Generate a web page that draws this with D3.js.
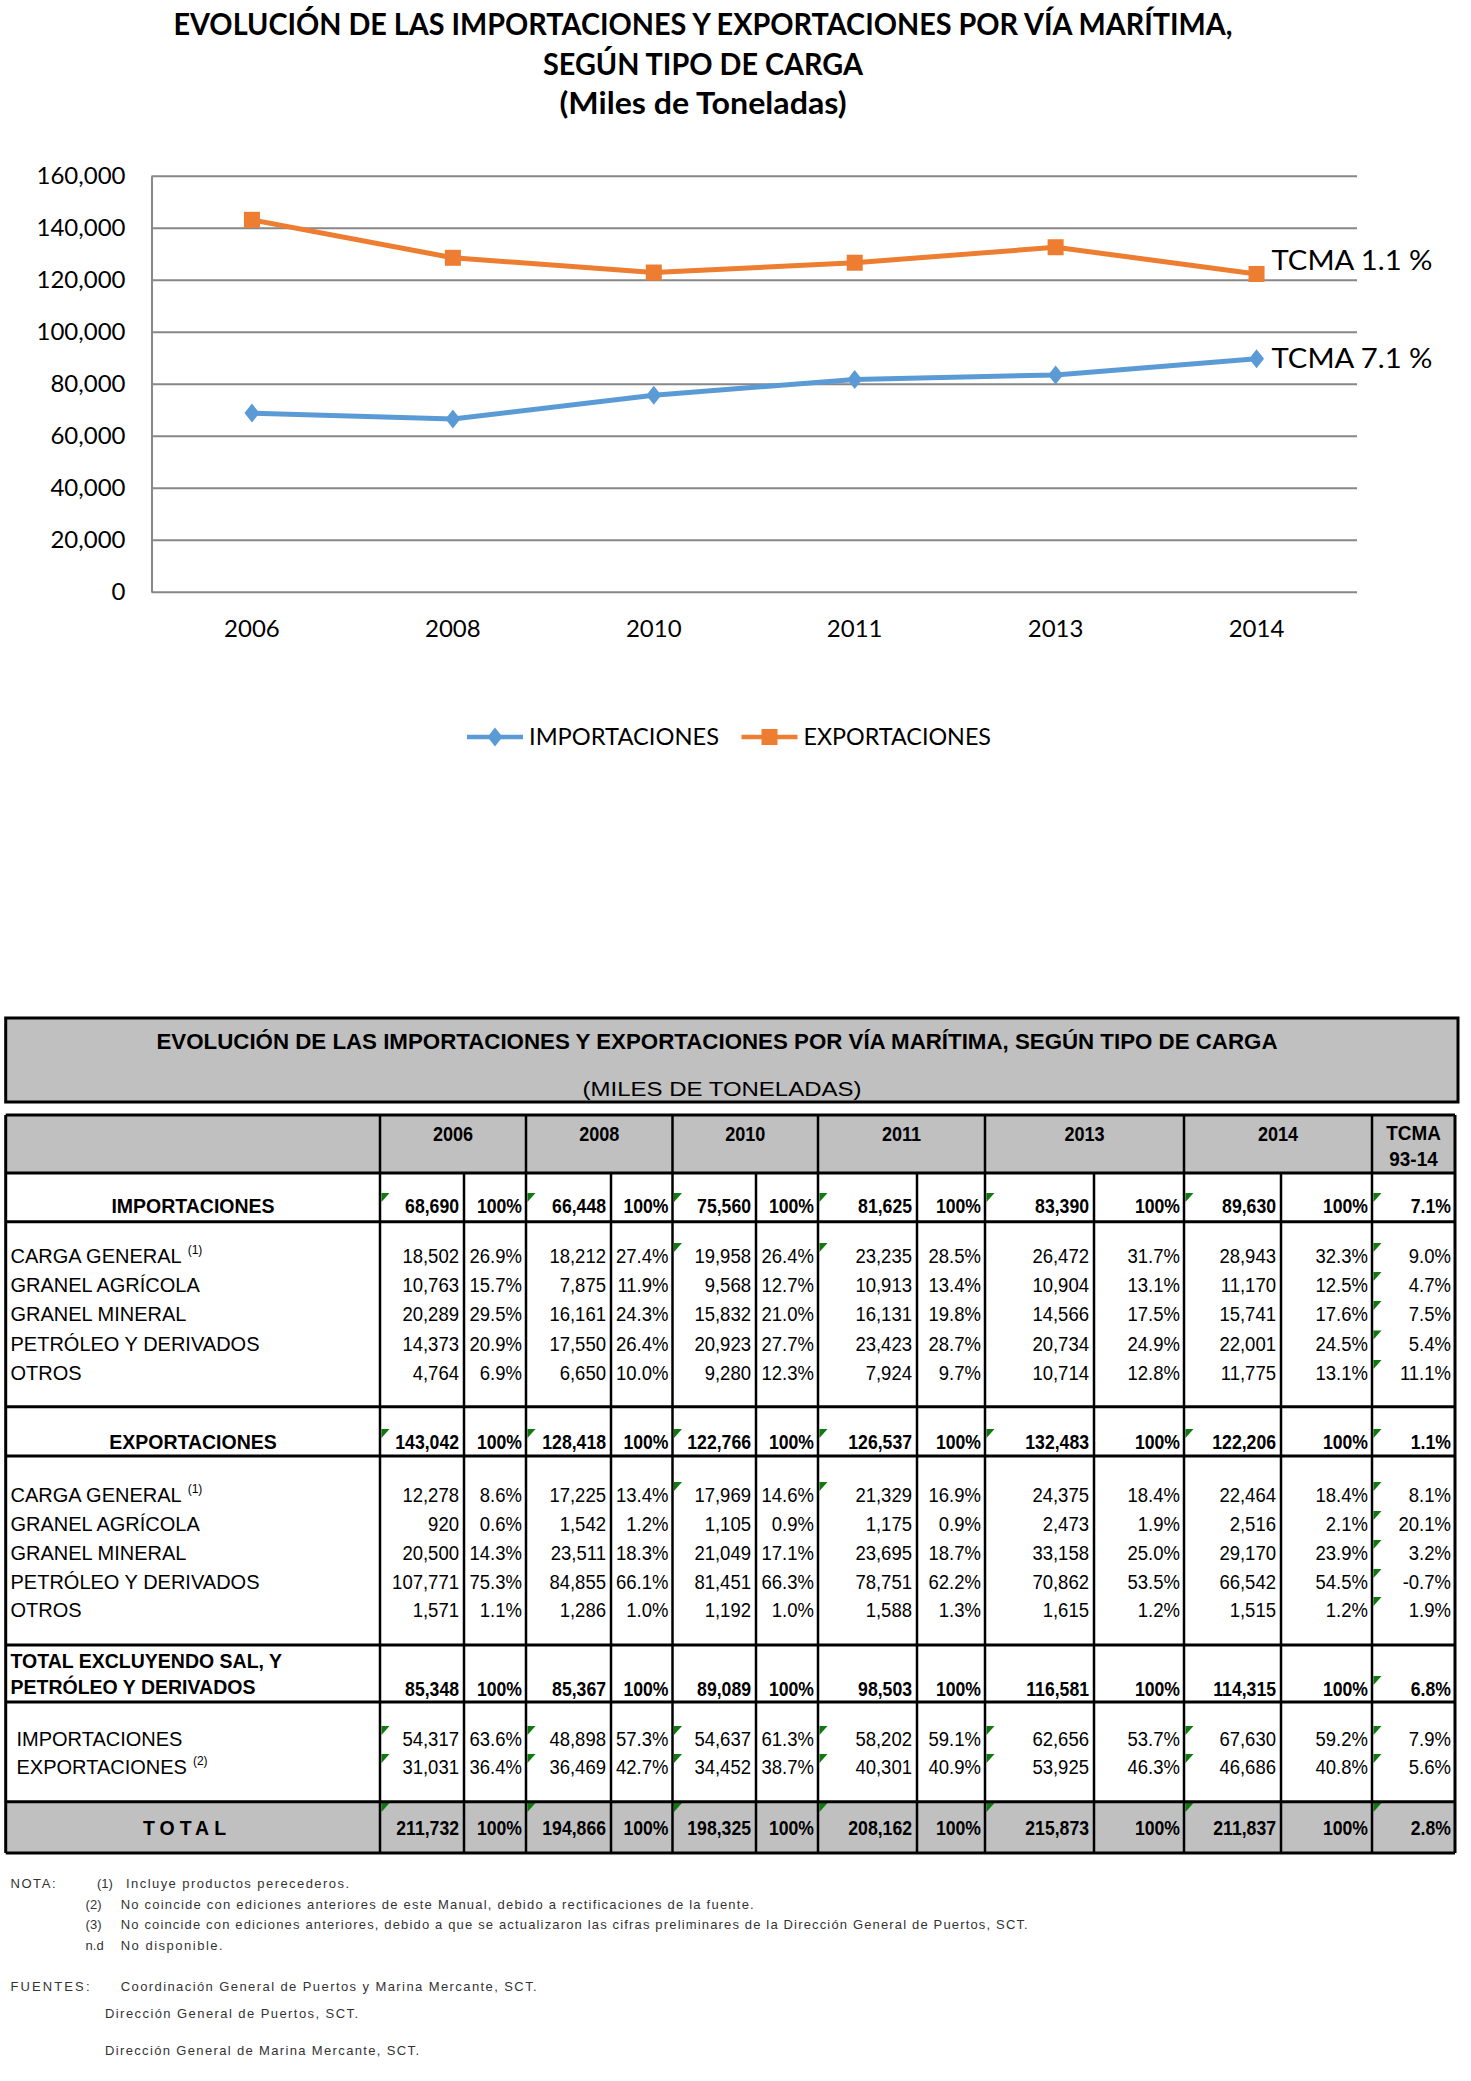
<!DOCTYPE html>
<html><head><meta charset="utf-8">
<script src="https://cdn.jsdelivr.net/npm/d3@7"></script>
<style>body{margin:0;background:#fff}svg{display:block}</style>
</head><body>
<svg id="c" width="1471" height="2081"></svg>
<script>
// ---------------- DATA ----------------
const years = ["2006","2008","2010","2011","2013","2014"];
const importaciones = [68690,66448,75560,81625,83390,89630];
const exportaciones = [143042,128418,122766,126537,132483,122206];
const yTicks = [0,20000,40000,60000,80000,100000,120000,140000,160000];
const tcmaImp = "TCMA 7.1 %";
const tcmaExp = "TCMA 1.1 %";
const chartTitle = ["EVOLUCIÓN DE LAS IMPORTACIONES Y EXPORTACIONES POR VÍA MARÍTIMA,","SEGÚN TIPO DE CARGA","(Miles de Toneladas)"];
const seriesNames = ["IMPORTACIONES","EXPORTACIONES"];

const tableTitle = "EVOLUCIÓN DE LAS IMPORTACIONES Y EXPORTACIONES POR VÍA MARÍTIMA, SEGÚN TIPO DE CARGA";
const tableSubtitle = "(MILES DE TONELADAS)";
const cats = ["CARGA GENERAL","GRANEL AGRÍCOLA","GRANEL MINERAL","PETRÓLEO Y DERIVADOS","OTROS"];

const impVals = [
  [18502,18212,19958,23235,26472,28943],
  [10763,7875,9568,10913,10904,11170],
  [20289,16161,15832,16131,14566,15741],
  [14373,17550,20923,23423,20734,22001],
  [4764,6650,9280,7924,10714,11775]];
const impPct = [
  [26.9,27.4,26.4,28.5,31.7,32.3],
  [15.7,11.9,12.7,13.4,13.1,12.5],
  [29.5,24.3,21.0,19.8,17.5,17.6],
  [20.9,26.4,27.7,28.7,24.9,24.5],
  [6.9,10.0,12.3,9.7,12.8,13.1]];
const impTcma = [9.0,4.7,7.5,5.4,11.1];
const impTotalTcma = 7.1;

const expVals = [
  [12278,17225,17969,21329,24375,22464],
  [920,1542,1105,1175,2473,2516],
  [20500,23511,21049,23695,33158,29170],
  [107771,84855,81451,78751,70862,66542],
  [1571,1286,1192,1588,1615,1515]];
const expPct = [
  [8.6,13.4,14.6,16.9,18.4,18.4],
  [0.6,1.2,0.9,0.9,1.9,2.1],
  [14.3,18.3,17.1,18.7,25.0,23.9],
  [75.3,66.1,66.3,62.2,53.5,54.5],
  [1.1,1.0,1.0,1.3,1.2,1.2]];
const expTcma = [8.1,20.1,3.2,-0.7,1.9];
const expTotalTcma = 1.1;

const totalExcl = [85348,85367,89089,98503,116581,114315];
const totalExclTcma = 6.8;
const exclImp = [54317,48898,54637,58202,62656,67630];
const exclImpPct = [63.6,57.3,61.3,59.1,53.7,59.2];
const exclImpTcma = 7.9;
const exclExp = [31031,36469,34452,40301,53925,46686];
const exclExpPct = [36.4,42.7,38.7,40.9,46.3,40.8];
const exclExpTcma = 5.6;
const totalGen = [211732,194866,198325,208162,215873,211837];
const totalGenTcma = 2.8;

const notas = [
  ["(1)","Incluye productos perecederos."],
  ["(2)","No coincide con ediciones anteriores de este Manual, debido a rectificaciones de la fuente."],
  ["(3)","No coincide con ediciones anteriores, debido a que se actualizaron las cifras preliminares de la Dirección General de Puertos, SCT."],
  ["n.d","No disponible."]];
const fuentes = ["Coordinación General de Puertos y Marina Mercante, SCT.","Dirección General de Puertos, SCT.","Dirección General de Marina Mercante, SCT."];

// ---------------- CHART ----------------
const svg = d3.select("#c");
svg.append("rect").attr("width",1471).attr("height",2081).attr("fill","#fff");
const BLUE="#5B9BD5", ORANGE="#ED7D31", GRID="#878787";
const chartFont = "Lato, 'Open Sans', sans-serif";

const tW = [1059,320,287], tY=[35,75,114];
svg.selectAll("text.ctitle").data(chartTitle).join("text").attr("class","ctitle")
  .attr("x",703).attr("y",(d,i)=>tY[i]).attr("text-anchor","middle")
  .attr("font-family",chartFont).attr("font-weight",700).attr("font-size",30)
  .attr("textLength",(d,i)=>tW[i]).attr("lengthAdjust","spacingAndGlyphs").text(d=>d);

const L=151.5, R=1357, B=591.7, TOP=175.7;
const x = d3.scaleBand().domain(years).range([L,R]);
const y = d3.scaleLinear().domain([0,160000]).range([B,TOP]);
const cx = d => x(d)+x.bandwidth()/2;

const gY = svg.append("g").attr("transform",`translate(${L},0)`)
  .call(d3.axisLeft(y).tickValues(yTicks).tickFormat(d3.format(",")).tickSize(-(R-L)).tickSizeOuter(0).tickPadding(26));
gY.selectAll(".tick line").attr("stroke",GRID).attr("stroke-width",2);
gY.select(".domain").attr("stroke",GRID).attr("stroke-width",2);
gY.selectAll("text").attr("font-family",chartFont).attr("font-size",24).attr("fill","#000");

const gX = svg.append("g").attr("transform",`translate(0,${B})`)
  .call(d3.axisBottom(x).tickSize(0).tickPadding(0));
gX.select(".domain").remove();
gX.selectAll("text").attr("dy",null).attr("y",45).attr("font-family",chartFont).attr("font-size",24).attr("fill","#000");

const line = d3.line().x((d,i)=>cx(years[i])).y(d=>y(d));
const series = [
  {name:seriesNames[0], vals:importaciones, color:BLUE, marker:"diamond", label:tcmaImp, dy:9},
  {name:seriesNames[1], vals:exportaciones, color:ORANGE, marker:"square", label:tcmaExp, dy:-4}];
const diamond = "M0,-9.5L7.5,0L0,9.5L-7.5,0Z";
series.forEach(s=>{
  svg.append("path").attr("d",line(s.vals)).attr("fill","none").attr("stroke",s.color)
    .attr("stroke-width",5).attr("stroke-linejoin","round");
  const g = svg.append("g");
  s.vals.forEach((v,i)=>{
    if(s.marker==="diamond") g.append("path").attr("d",diamond).attr("transform",`translate(${cx(years[i])},${y(v)})`).attr("fill",s.color);
    else g.append("rect").attr("x",cx(years[i])-8).attr("y",y(v)-8).attr("width",16).attr("height",16).attr("fill",s.color);
  });
  const last = s.vals[s.vals.length-1];
  svg.append("text").attr("x",cx(years[years.length-1])+15).attr("y",y(last)+s.dy)
    .attr("font-family",chartFont).attr("font-size",27).attr("textLength",161).attr("lengthAdjust","spacingAndGlyphs").text(s.label);
});

// legend
const legX=[467,741.5], legW=[190,187.5];
series.forEach((s,i)=>{
  const x0=legX[i], ly=737;
  svg.append("line").attr("x1",x0).attr("x2",x0+56).attr("y1",ly).attr("y2",ly).attr("stroke",s.color).attr("stroke-width",4.5);
  if(s.marker==="diamond") svg.append("path").attr("d",diamond).attr("transform",`translate(${x0+28},${ly})`).attr("fill",s.color);
  else svg.append("rect").attr("x",x0+28-8).attr("y",ly-8).attr("width",16).attr("height",16).attr("fill",s.color);
  svg.append("text").attr("x",x0+62).attr("y",745).attr("font-family",chartFont).attr("font-size",24)
    .attr("textLength",legW[i]).attr("lengthAdjust","spacingAndGlyphs").text(s.name);
});

// ---------------- TABLE ----------------
const tf = "'Liberation Sans', Arial, sans-serif";
const GRAY="#c0c0c0";
const TL=5.7, TR=1455;
const edges=[TL,380,464,526,611,672.5,756,818,917,985,1094,1184,1281,1372,TR];
const groupEdges=[380,526,672.5,818,985,1184,1372];
const splitEdges=[464,611,756,917,1094,1281];
const tg = svg.append("g");

// title box
tg.append("rect").attr("x",TL).attr("y",1018).attr("width",1458-TL).attr("height",84).attr("fill",GRAY).attr("stroke","#000").attr("stroke-width",3);
tg.append("text").attr("x",717).attr("y",1049).attr("text-anchor","middle").attr("font-family",tf).attr("font-weight",700)
  .attr("font-size",22).attr("textLength",1121).attr("lengthAdjust","spacingAndGlyphs").text(tableTitle);
tg.append("text").attr("x",722).attr("y",1096).attr("text-anchor","middle").attr("font-family",tf)
  .attr("font-size",20).attr("textLength",279).attr("lengthAdjust","spacingAndGlyphs").text(tableSubtitle);

// fills
tg.append("rect").attr("x",TL).attr("y",1115).attr("width",TR-TL).attr("height",58).attr("fill",GRAY);
tg.append("rect").attr("x",TL).attr("y",1801.7).attr("width",TR-TL).attr("height",1853-1801.7).attr("fill",GRAY);

// header
years.forEach((yr,i)=>{
  const cxm=(edges[1+2*i]+edges[3+2*i])/2;
  tg.append("text").attr("transform",`translate(${cxm},1141) scale(0.86,1)`).attr("text-anchor","middle")
    .attr("font-family",tf).attr("font-weight",700).attr("font-size",21).text(yr);
});
tg.append("text").attr("transform","translate(1413.5,1140) scale(0.9,1)").attr("text-anchor","middle").attr("font-family",tf).attr("font-weight",700).attr("font-size",21).text("TCMA");
tg.append("text").attr("transform","translate(1413.5,1166) scale(0.9,1)").attr("text-anchor","middle").attr("font-family",tf).attr("font-weight",700).attr("font-size",21).text("93-14");

// rows
const allCols=[0,1,2,3,4,5,6];
const rows=[];
rows.push({label:"IMPORTACIONES",kind:"section",vals:importaciones,pct:importaciones.map(()=>100),tcma:impTotalTcma,y:1213,marks:allCols});
const impY=[1263,1292,1321,1350.5,1380];
cats.forEach((c,i)=>rows.push({label:c,sup:i===0?"(1)":null,kind:"sub",vals:impVals[i],pct:impPct[i],tcma:impTcma[i],y:impY[i],marks:i===0?[2,3,6]:[6]}));
rows.push({label:"EXPORTACIONES",kind:"section",vals:exportaciones,pct:exportaciones.map(()=>100),tcma:expTotalTcma,y:1449,marks:allCols});
const expY=[1502,1531,1560,1589,1617];
cats.forEach((c,i)=>rows.push({label:c,sup:i===0?"(1)":null,kind:"sub",vals:expVals[i],pct:expPct[i],tcma:expTcma[i],y:expY[i],marks:i===0?[2,3,6]:[6]}));
rows.push({label:["TOTAL EXCLUYENDO SAL, Y","PETRÓLEO Y DERIVADOS"],kind:"excl",vals:totalExcl,pct:totalExcl.map(()=>100),tcma:totalExclTcma,y:1696,marks:[6]});
rows.push({label:"IMPORTACIONES",kind:"sub2",vals:exclImp,pct:exclImpPct,tcma:exclImpTcma,y:1746,marks:allCols});
rows.push({label:"EXPORTACIONES",sup:"(2)",kind:"sub2",vals:exclExp,pct:exclExpPct,tcma:exclExpTcma,y:1774,marks:allCols});
rows.push({label:"TOTAL",kind:"grand",vals:totalGen,pct:totalGen.map(()=>100),tcma:totalGenTcma,y:1835,marks:allCols,markY:1803});

const fmtN=d3.format(",");
const fmtP=v=>v===100?"100%":v.toFixed(1)+"%";
const markX=[380,526,672.5,818,985,1184,1372];

function numText(xr,yb,txt,bold){
  tg.append("text").attr("transform",`translate(${xr},${yb}) scale(${bold?0.84:0.95},1)`).attr("text-anchor","end")
    .attr("font-family",tf).attr("font-weight",bold?700:400).attr("font-size",bold?21:19.5).attr("fill","#000").text(txt);
}
rows.forEach(r=>{
  const bold = r.kind==="section"||r.kind==="excl"||r.kind==="grand";
  if(r.kind==="section"){
    tg.append("text").attr("x",193).attr("y",r.y).attr("text-anchor","middle").attr("font-family",tf).attr("font-weight",700).attr("font-size",19.5).text(r.label);
  } else if(r.kind==="grand"){
    tg.append("text").attr("x",187).attr("y",r.y).attr("text-anchor","middle").attr("font-family",tf).attr("font-weight",700).attr("font-size",19.5).attr("letter-spacing",5).text(r.label);
  } else if(r.kind==="excl"){
    tg.append("text").attr("x",10.5).attr("y",1668).attr("font-family",tf).attr("font-weight",700).attr("font-size",19.5).text(r.label[0]);
    tg.append("text").attr("x",10.5).attr("y",1694).attr("font-family",tf).attr("font-weight",700).attr("font-size",19.5).text(r.label[1]);
  } else {
    const t=tg.append("text").attr("x",r.kind==="sub2"?16.5:10.5).attr("y",r.y).attr("font-family",tf).attr("font-size",20).text(r.label);
    if(r.sup) t.append("tspan").attr("dx",6).attr("dy",-9).attr("font-size",12).text(r.sup);
  }
  r.vals.forEach((v,i)=>{
    numText(edges[2+2*i]-5,r.y,fmtN(v),bold);
    numText(edges[3+2*i]-4,r.y,fmtP(r.pct[i]),bold);
  });
  numText(TR-4,r.y,r.tcma.toFixed(1)+"%",bold);
  r.marks.forEach(ci=>{
    const mx=markX[ci]+1.5, my=r.markY!==undefined?r.markY:r.y-20;
    tg.append("path").attr("d",`M${mx},${my}L${mx+8},${my}L${mx},${my+9}Z`).attr("fill","#0f7b0f");
  });
});

// borders
[1115,1173,1221.7,1406.7,1456,1645,1702,1801.7,1853].forEach(yy=>{
  tg.append("line").attr("x1",TL).attr("x2",TR).attr("y1",yy).attr("y2",yy).attr("stroke","#000").attr("stroke-width",3);
});
[TL,TR].forEach(xx=>tg.append("line").attr("x1",xx).attr("x2",xx).attr("y1",1115).attr("y2",1853).attr("stroke","#000").attr("stroke-width",3));
groupEdges.forEach(xx=>tg.append("line").attr("x1",xx).attr("x2",xx).attr("y1",1115).attr("y2",1853).attr("stroke","#000").attr("stroke-width",2.5));
splitEdges.forEach(xx=>tg.append("line").attr("x1",xx).attr("x2",xx).attr("y1",1173).attr("y2",1853).attr("stroke","#000").attr("stroke-width",2.5));

// notes
const nf = {family:tf,size:13,fill:"#333"};
function note(x0,yb,txt,w){
  const t=svg.append("text").attr("x",x0).attr("y",yb).attr("font-family",nf.family).attr("font-size",nf.size).attr("fill",nf.fill).text(txt);
  if(w) t.attr("textLength",w).attr("lengthAdjust","spacing");
}
note(10.5,1888,"NOTA:",45);
const nY=[1888,1909,1929,1950];
const nKeyX=[97,85.6,85.6,85.6];
const nTxtX=[126,120.7,120.7,120.7];
const nW=[223,633,907,102];
notas.forEach((n,i)=>{ note(nKeyX[i],nY[i],n[0]); note(nTxtX[i],nY[i],n[1],nW[i]); });
note(10.5,1991,"FUENTES:",79);
note(120.7,1991,fuentes[0],416);
note(105,2018,fuentes[1],253);
note(105,2055,fuentes[2],314);
</script>
</body></html>
